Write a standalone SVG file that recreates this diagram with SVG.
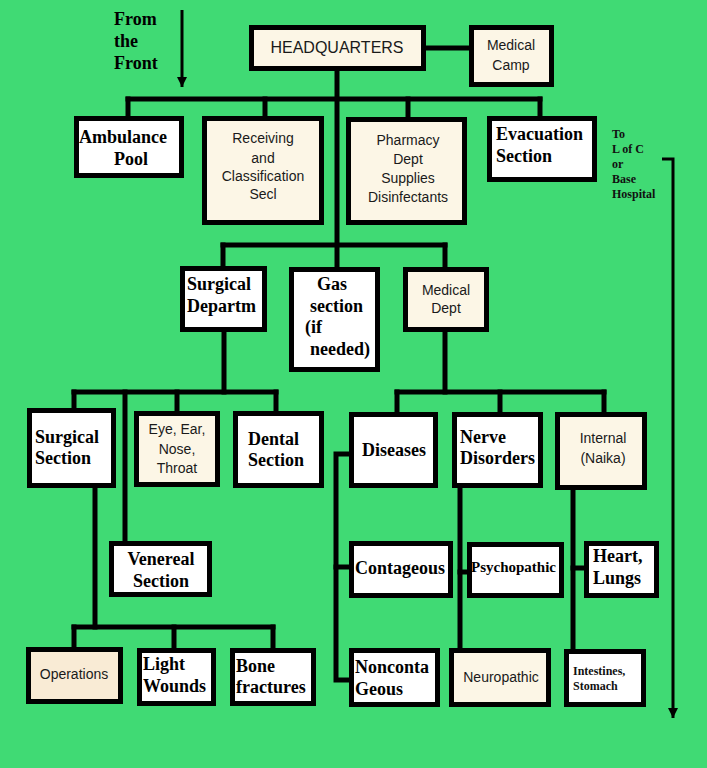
<svg xmlns="http://www.w3.org/2000/svg" width="707" height="768" viewBox="0 0 707 768">
<defs>
<style>
.bg{fill:#40da74}
.box{stroke:#000;stroke-width:5;fill:#ffffff}
.cream{fill:#fcf6e6}
.peach{fill:#f9ebd5}
.ln{stroke:#000;stroke-width:5;fill:none;stroke-linecap:square}
.thin{stroke:#000;stroke-width:3;fill:none}
.s{font-family:"Liberation Sans",Arial,sans-serif;font-size:14px;fill:#1a1a1a;text-anchor:middle}
.b{font-family:"Liberation Serif","Times New Roman",serif;font-weight:bold;font-size:18px;fill:#000}
.bs{font-family:"Liberation Serif","Times New Roman",serif;font-weight:bold;font-size:12px;fill:#111}
.c{text-anchor:middle}
</style>
<marker id="ah" viewBox="0 0 10 10" refX="10" refY="5" markerWidth="10" markerHeight="10" markerUnits="userSpaceOnUse" orient="auto">
<path d="M0,0 L10,5 L0,10 Z" fill="#000"/>
</marker>
</defs>
<rect class="bg" x="0" y="0" width="707" height="768"/>

<g id="connectors">
<line class="ln" x1="426" y1="48" x2="469" y2="48"/>
<line class="ln" x1="337" y1="71" x2="337" y2="267"/>
<line class="ln" x1="128" y1="99" x2="540" y2="99"/>
<line class="ln" x1="128" y1="99" x2="128" y2="116"/>
<line class="ln" x1="265" y1="99" x2="265" y2="116"/>
<line class="ln" x1="408" y1="99" x2="408" y2="117"/>
<line class="ln" x1="540" y1="99" x2="540" y2="116"/>
<line class="ln" x1="223" y1="245" x2="445" y2="245"/>
<line class="ln" x1="223" y1="245" x2="223" y2="266"/>
<line class="ln" x1="445" y1="245" x2="445" y2="267"/>
<line class="ln" x1="224" y1="332" x2="224" y2="392"/>
<line class="ln" x1="74" y1="392" x2="276" y2="392"/>
<line class="ln" x1="74" y1="392" x2="74" y2="408"/>
<line class="ln" x1="125" y1="392" x2="125" y2="541"/>
<line class="ln" x1="177" y1="392" x2="177" y2="411"/>
<line class="ln" x1="276" y1="392" x2="276" y2="411"/>
<line class="ln" x1="445" y1="332" x2="445" y2="392"/>
<line class="ln" x1="397" y1="392" x2="604" y2="392"/>
<line class="ln" x1="397" y1="392" x2="397" y2="412"/>
<line class="ln" x1="500" y1="392" x2="500" y2="412"/>
<line class="ln" x1="604" y1="392" x2="604" y2="412"/>
<line class="ln" x1="95" y1="488" x2="95" y2="627"/>
<line class="ln" x1="74" y1="627" x2="273" y2="627"/>
<line class="ln" x1="74" y1="627" x2="74" y2="647"/>
<line class="ln" x1="174" y1="627" x2="174" y2="648"/>
<line class="ln" x1="273" y1="627" x2="273" y2="648"/>
<polyline class="ln" points="349,454 336,454 336,680 349,680"/>
<line class="ln" x1="336" y1="567" x2="349" y2="567"/>
<line class="ln" x1="460" y1="488" x2="460" y2="648"/>
<line class="ln" x1="460" y1="572" x2="467" y2="572"/>
<line class="ln" x1="573" y1="490" x2="573" y2="649"/>
<line class="ln" x1="573" y1="568" x2="584" y2="568"/>
<line class="thin" x1="182" y1="10" x2="182" y2="87" marker-end="url(#ah)"/>
<polyline class="thin" points="662,159 673,159 673,718" marker-end="url(#ah)"/>
</g>

<g id="from-front">
<text class="b" x="114" y="25">From</text>
<text class="b" x="114" y="47">the</text>
<text class="b" x="114" y="69">Front</text>
</g>
<g id="to-loc">
<text class="bs" x="612" y="138">To</text>
<text class="bs" x="612" y="153">L of C</text>
<text class="bs" x="612" y="168">or</text>
<text class="bs" x="612" y="183">Base</text>
<text class="bs" x="612" y="198">Hospital</text>
</g>

<g id="headquarters"><rect class="box cream" x="251.5" y="27.5" width="172" height="41"/><text class="s" x="337" y="53" style="font-size:16px">HEADQUARTERS</text></g>
<g id="medical-camp"><rect class="box cream" x="471.5" y="27.5" width="80" height="57"/><text class="s" x="511" y="50">Medical</text><text class="s" x="511" y="70">Camp</text></g>
<g id="ambulance-pool"><rect class="box" x="76.5" y="118.5" width="105" height="57"/><text class="b" x="79" y="143">Ambulance</text><text class="b c" x="131" y="165">Pool</text></g>
<g id="receiving"><rect class="box cream" x="204.5" y="118.5" width="117" height="104"/><text class="s" x="263" y="143">Receiving</text><text class="s" x="263" y="163">and</text><text class="s" x="263" y="181">Classification</text><text class="s" x="263" y="199">Secl</text></g>
<g id="pharmacy"><rect class="box cream" x="348.5" y="119.5" width="116" height="103"/><text class="s" x="408" y="145">Pharmacy</text><text class="s" x="408" y="164">Dept</text><text class="s" x="408" y="183">Supplies</text><text class="s" x="408" y="202">Disinfectants</text></g>
<g id="evacuation"><rect class="box" x="489.5" y="118.5" width="105" height="61"/><text class="b" x="496" y="140">Evacuation</text><text class="b" x="496" y="162">Section</text></g>

<g id="surgical-departm"><rect class="box" x="182.5" y="268.5" width="82" height="61"/><text class="b" x="187" y="290">Surgical</text><text class="b" x="187" y="312">Departm</text></g>
<g id="gas-section"><rect class="box" x="291.5" y="269.5" width="86" height="100"/><text class="b c" x="332" y="290">Gas</text><text class="b" x="310" y="312">section</text><text class="b" x="305" y="333">(if</text><text class="b" x="310" y="355">needed)</text></g>
<g id="medical-dept"><rect class="box cream" x="405.5" y="269.5" width="81" height="60"/><text class="s" x="446" y="295">Medical</text><text class="s" x="446" y="313">Dept</text></g>

<g id="surgical-section"><rect class="box" x="29.5" y="410.5" width="84" height="75"/><text class="b" x="35" y="443">Surgical</text><text class="b" x="35" y="464">Section</text></g>
<g id="eye-ear"><rect class="box cream" x="136.5" y="413.5" width="81" height="71"/><text class="s" x="177" y="434">Eye, Ear,</text><text class="s" x="177" y="454">Nose,</text><text class="s" x="177" y="473">Throat</text></g>
<g id="dental"><rect class="box" x="235.5" y="413.5" width="86" height="72"/><text class="b" x="248" y="445">Dental</text><text class="b" x="248" y="466">Section</text></g>
<g id="diseases"><rect class="box" x="351.5" y="414.5" width="84" height="71"/><text class="b c" x="394" y="456">Diseases</text></g>
<g id="nerve-disorders"><rect class="box" x="454.5" y="414.5" width="86" height="71"/><text class="b" x="460" y="443">Nerve</text><text class="b" x="460" y="464">Disorders</text></g>
<g id="internal"><rect class="box cream" x="557.5" y="414.5" width="87" height="73"/><text class="s" x="603" y="443">Internal</text><text class="s" x="603" y="463">(Naika)</text></g>

<g id="venereal"><rect class="box" x="111.5" y="543.5" width="98" height="51"/><text class="b c" x="161" y="565">Venereal</text><text class="b c" x="161" y="587">Section</text></g>
<g id="contageous"><rect class="box" x="351.5" y="543.5" width="99" height="52"/><text class="b" x="355" y="574">Contageous</text></g>
<g id="psychopathic"><rect class="box" x="469.5" y="544.5" width="92" height="51"/><text class="b" x="471" y="572" style="font-size:15px">Psychopathic</text></g>
<g id="heart-lungs"><rect class="box" x="586.5" y="543.5" width="70" height="52"/><text class="b" x="593" y="562">Heart,</text><text class="b" x="593" y="584">Lungs</text></g>

<g id="operations"><rect class="box peach" x="28.5" y="649.5" width="92" height="52"/><text class="s" x="74" y="679">Operations</text></g>
<g id="light-wounds"><rect class="box" x="139.5" y="650.5" width="74" height="53"/><text class="b" x="143" y="670">Light</text><text class="b" x="143" y="692">Wounds</text></g>
<g id="bone-fractures"><rect class="box" x="232.5" y="650.5" width="81" height="53"/><text class="b" x="236" y="672">Bone</text><text class="b" x="236" y="693">fractures</text></g>
<g id="noncontageous"><rect class="box" x="351.5" y="650.5" width="86" height="54"/><text class="b" x="355" y="673">Nonconta</text><text class="b" x="355" y="695">Geous</text></g>
<g id="neuropathic"><rect class="box cream" x="451.5" y="650.5" width="97" height="54"/><text class="s" x="501" y="682">Neuropathic</text></g>
<g id="intestines"><rect class="box" x="566.5" y="651.5" width="77" height="53"/><text class="bs" x="573" y="675">Intestines,</text><text class="bs" x="573" y="690">Stomach</text></g>
</svg>
